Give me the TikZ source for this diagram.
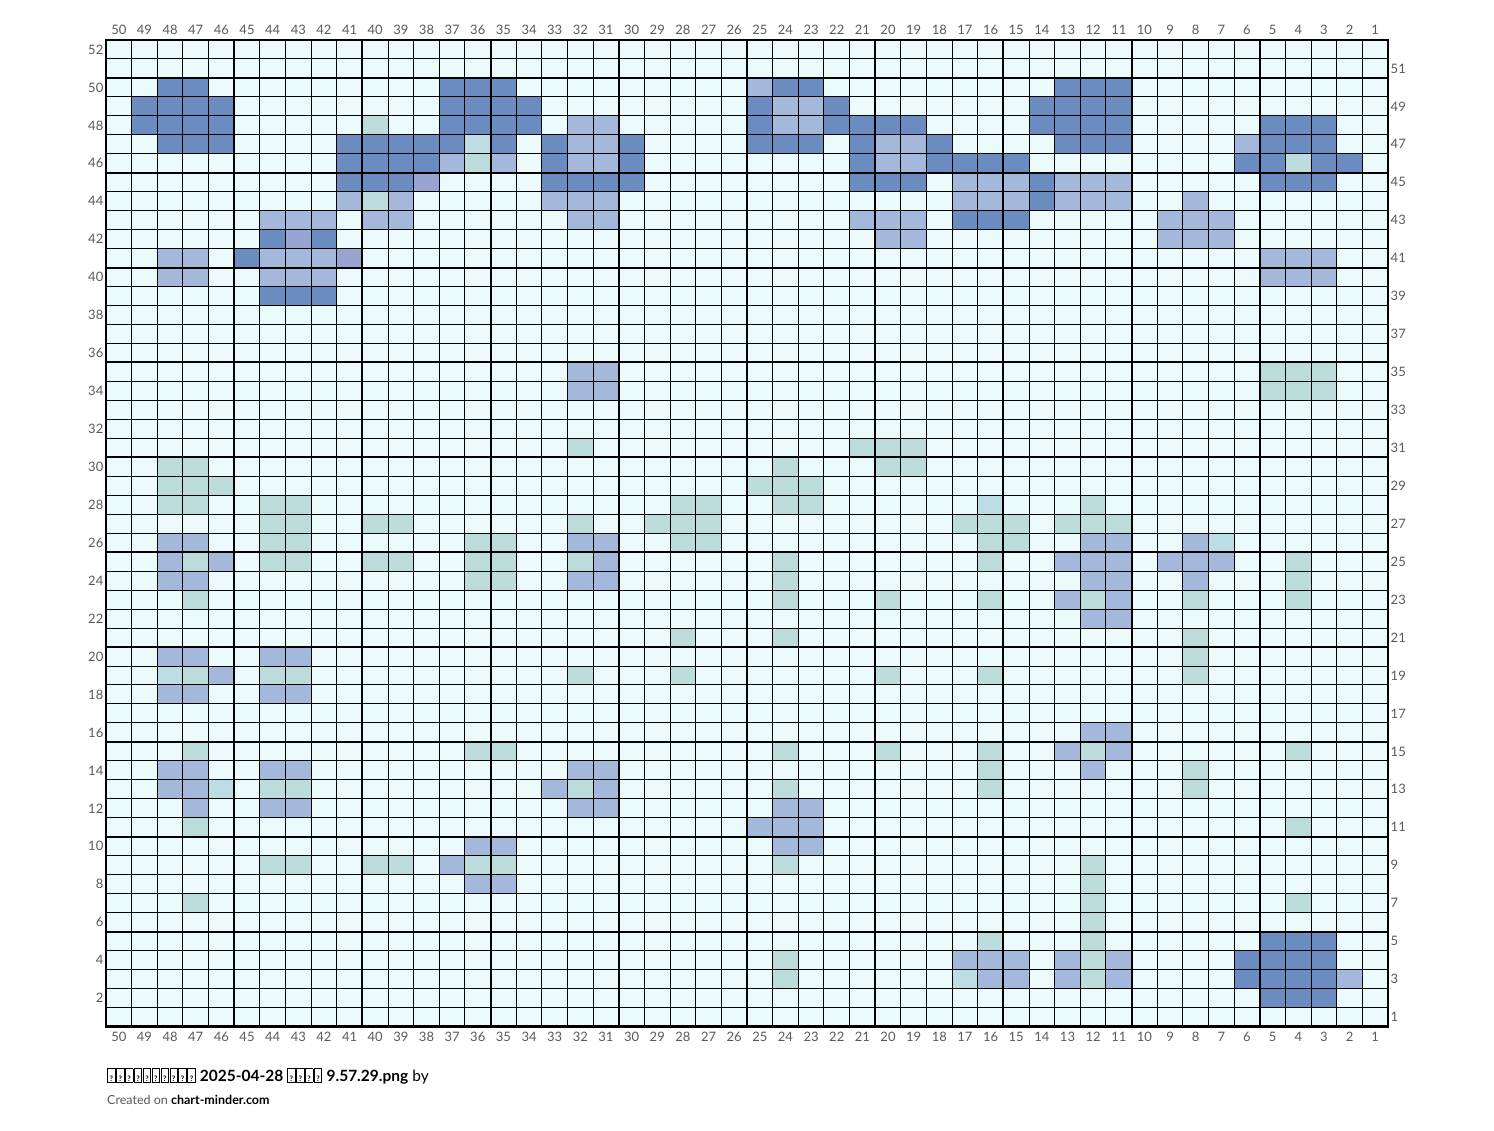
\documentclass[tikz,border=0pt]{standalone}
\usepackage{fontspec}
\setmainfont{Lato}
\definecolor{bgc}{HTML}{EBFAFA}
\definecolor{dkc}{HTML}{6A8CC0}
\definecolor{lbc}{HTML}{A4B8DC}
\definecolor{tlc}{HTML}{BBDCDB}
\definecolor{ppc}{HTML}{97A5D0}
\definecolor{tbc}{HTML}{BCDDE3}
\definecolor{labc}{HTML}{5A5A5A}
\newcommand\tofu{\begingroup\setlength\fboxsep{0.5pt}\setlength\fboxrule{0.9pt}\fbox{\vphantom{A}\makebox[5.6pt]{\fontsize{7.5}{8}\selectfont ?}}\endgroup\kern0.5pt}
\newcommand\cellfill[3]{\fill[#1] ({106+(50-#2)*25.64},{40+(52-#3)*18.97}) rectangle ++(25.64,18.97);}
\tikzset{
  lab/.style={font=\fontsize{13}{15}\selectfont, text=labc, inner sep=0pt},
  thinln/.style={line width=1pt, black},
  thickln/.style={line width=2pt, black},
}
\begin{document}
\begin{tikzpicture}[x=1pt,y=-1pt]
\useasboundingbox (0,0) rectangle (1494,1130);
\fill[white] (0,0) rectangle (1494,1130);
\fill[bgc] (106,40) rectangle (1388,1026.5);
% dark blue
\foreach \r/\cols in {50/{48,47,37,36,35,24,23,13,12,11},
 49/{49,48,47,46,37,36,35,34,25,22,14,13,12,11},
 48/{49,48,47,46,37,36,35,34,25,22,21,20,19,14,13,12,11,5,4,3},
 47/{48,47,46,41,40,39,38,37,35,33,30,25,24,23,21,18,13,12,11,5,4,3},
 46/{41,40,39,38,33,30,21,18,17,16,15,6,5,3,2},
 45/{41,40,39,33,32,31,30,21,20,19,14,5,4,3},
 44/{14}, 43/{17,16,15}, 42/{44,42}, 41/{45}, 39/{44,43,42},
 5/{5,4,3}, 4/{6,5,4,3}, 3/{6,5,4,3}, 2/{5,4,3}}
 {\foreach \c in \cols {\cellfill{dkc}{\c}{\r}}}
% light blue
\foreach \r/\cols in {50/{25}, 49/{24,23}, 48/{32,31,24,23},
 47/{32,31,20,19,6}, 46/{37,35,32,31,20,19},
 45/{17,16,15,13,12,11},
 44/{41,39,33,32,31,17,16,15,13,12,11,8},
 43/{44,43,42,40,39,32,31,21,20,19,9,8,7},
 42/{20,19,9,8,7},
 41/{48,47,44,43,42,5,4,3}, 40/{48,47,44,43,42,5,4,3},
 35/{32,31}, 34/{32,31},
 26/{48,47,32,31,12,11,8},
 25/{48,46,31,13,12,11,9,8,7},
 24/{48,47,32,31,12,11,8},
 23/{13,11}, 22/{12,11},
 20/{48,47,44,43}, 19/{46}, 18/{48,47,44,43},
 16/{12,11}, 15/{13,11},
 14/{48,47,44,43,32,31,12},
 13/{48,47,33,31},
 12/{47,44,43,32,31,24,23},
 11/{25,24,23}, 10/{36,35,24,23}, 9/{37}, 8/{36,35},
 4/{17,16,15,13,11}, 3/{16,15,13,11,2}}
 {\foreach \c in \cols {\cellfill{lbc}{\c}{\r}}}
% purple
\foreach \r/\c in {45/38, 42/43, 41/41} {\cellfill{ppc}{\c}{\r}}
% teal
\foreach \r/\cols in {48/{40}, 46/{36,4}, 44/{40},
 35/{5,4,3}, 34/{5,4,3},
 31/{32,21,20,19},
 30/{48,47,24,20,19},
 29/{48,47,46,25,24,23},
 28/{48,47,44,43,28,27,24,23,12},
 27/{44,43,40,39,32,29,28,27,17,16,15,13,12,11},
 26/{44,43,36,35,28,27,16,15},
 25/{47,44,43,40,39,36,35,32,24,16,4},
 24/{36,35,24,4},
 23/{47,24,20,16,12,8,4},
 21/{28,24,8}, 20/{8},
 19/{47,44,43,32,28,20,16,8},
 15/{47,36,35,24,20,16,12,4},
 14/{16,8},
 13/{44,43,32,24,16,8},
 11/{47,4},
 9/{44,43,40,39,36,35,24,12},
 8/{12}, 7/{47,12,4}, 6/{12}, 5/{16,12}, 4/{24,12}, 3/{24,12}}
 {\foreach \c in \cols {\cellfill{tlc}{\c}{\r}}}
% bluish teal
\foreach \r/\c in {47/36, 28/16, 26/7, 19/48, 13/46, 3/17} {\cellfill{tbc}{\c}{\r}}
% grid lines
\foreach \i in {0,...,50} \draw[thinln] ({106+\i*25.64},40) -- ({106+\i*25.64},1026.5);
\foreach \j in {0,...,52} \draw[thinln] (106,{40+\j*18.97}) -- (1388,{40+\j*18.97});
\foreach \i in {5,10,...,45} \draw[thickln] ({106+\i*25.64},40) -- ({106+\i*25.64},1026.5);
\foreach \j in {2,7,...,47} \draw[thickln] (106,{40+\j*18.97}) -- (1388,{40+\j*18.97});
\draw[line width=2.5pt] (106,40) rectangle (1388,1026.5);
% column labels
\foreach \c in {1,...,50} {
  \node[lab] (ct\c) at ({106+(50.5-\c)*25.64},30) {\c};
  \node[lab] (cb\c) at ({106+(50.5-\c)*25.64},1037) {\c};
}
% row labels
\foreach \r in {2,4,...,52} \node[lab, anchor=east] (rl\r) at (103.5,{40+(52.5-\r)*18.97}) {\r};
\foreach \r in {1,3,...,51} \node[lab, anchor=west] (rr\r) at (1390.5,{40+(52.5-\r)*18.97}) {\r};
% footer
\node[anchor=base west, inner sep=0pt, font=\fontsize{15.5}{18}\selectfont] (title) at (107,1081)
 {\textbf{\tofu\tofu\tofu\tofu\tofu\tofu\tofu\tofu\tofu\tofu\ 2025-04-28 \tofu\tofu\tofu\tofu\ 9.57.29.png} by};
\node[anchor=base west, inner sep=0pt, font=\fontsize{12.5}{15}\selectfont] (credit) at (107,1104)
 {\textcolor{labc}{Created on} \textbf{chart-minder.com}};
\end{tikzpicture}
\end{document}
